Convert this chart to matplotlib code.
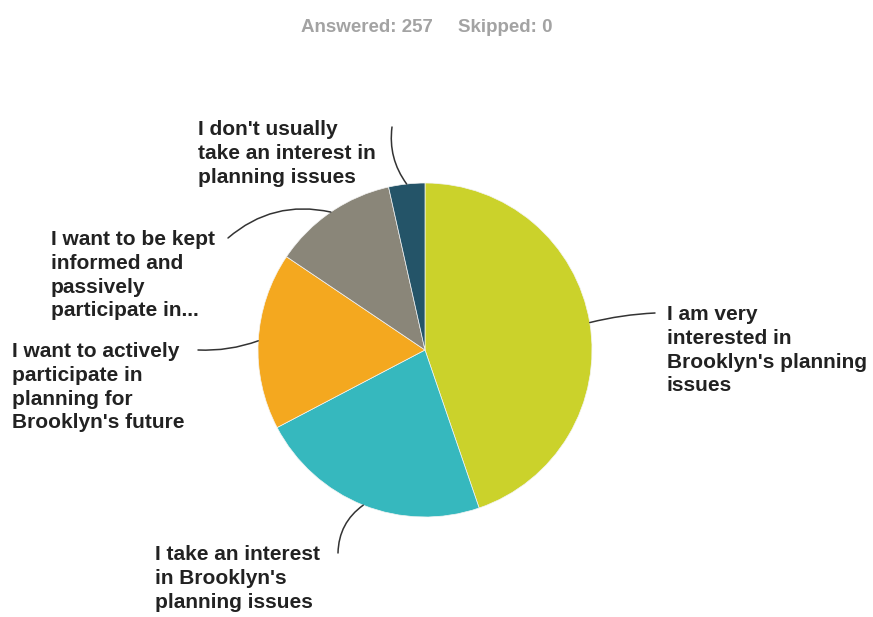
import numpy as np
import matplotlib
matplotlib.use("Agg")
import matplotlib.pyplot as plt

# Survey responses (counts out of 257 answered)
labels = [
    "I am very\ninterested in\nBrooklyn's planning\nissues",
    "I take an interest\nin Brooklyn's\nplanning issues",
    "I want to actively\nparticipate in\nplanning for\nBrooklyn's future",
    "I want to be kept\ninformed and\npassively\nparticipate in...",
    "I don't usually\ntake an interest in\nplanning issues",
]
counts = [115, 58, 44, 31, 9]
colors = ["#CBD22B", "#36B8BE", "#F4A81F", "#8A8679", "#245468"]
answered = 257
skipped = 0

W, H = 873, 617
fig = plt.figure(figsize=(W / 100, H / 100), dpi=100)
ax = fig.add_axes([0, 0, 1, 1])

cx, cy, r = 425, H - 350, 167
wedges, _ = ax.pie(counts, colors=colors, startangle=90, counterclock=False,
                   center=(cx, cy), radius=r, frame=True,
                   wedgeprops=dict(linewidth=0.5, edgecolor="#f4f4f4"))
ax.set_xlim(0, W)
ax.set_ylim(0, H)
ax.set_aspect("equal")
ax.axis("off")

font = dict(family="Liberation Sans", fontweight="bold", fontsize=15,
            color="#222222", linespacing=1.32)

# label text anchor (x, y in pixels from top), connection curvature
label_pos = [
    (667, 305, 0.05),
    (155, 545, -0.25),
    (12, 342, 0.1),
    (51, 230, -0.25),
    (198, 120, 0.2),
]
line_end = [
    (655, 313),
    (338, 553),
    (198, 350),
    (228, 238),
    (392, 127),
]

for w, lab, (tx, ty, rad), (ex, ey) in zip(wedges, labels, label_pos, line_end):
    ang = np.deg2rad((w.theta1 + w.theta2) / 2)
    px = cx + r * np.cos(ang)
    py = cy + r * np.sin(ang)
    ax.annotate("", xy=(px, py), xytext=(ex, H - ey),
                arrowprops=dict(arrowstyle="-", color="#333333", lw=1.1,
                                connectionstyle=f"arc3,rad={rad}",
                                shrinkA=0, shrinkB=0))
    ax.text(tx, H - ty, lab, ha="left", va="top", **font)

hdr = dict(family="Liberation Sans", fontweight="bold", fontsize=13.5,
           color="#a3a3a3", va="center")
ax.text(433, H - 27, f"Answered: {answered}", ha="right", **hdr)
ax.text(458, H - 27, f"Skipped: {skipped}", ha="left", **hdr)

fig.savefig("out.png", dpi=100, facecolor="white")
